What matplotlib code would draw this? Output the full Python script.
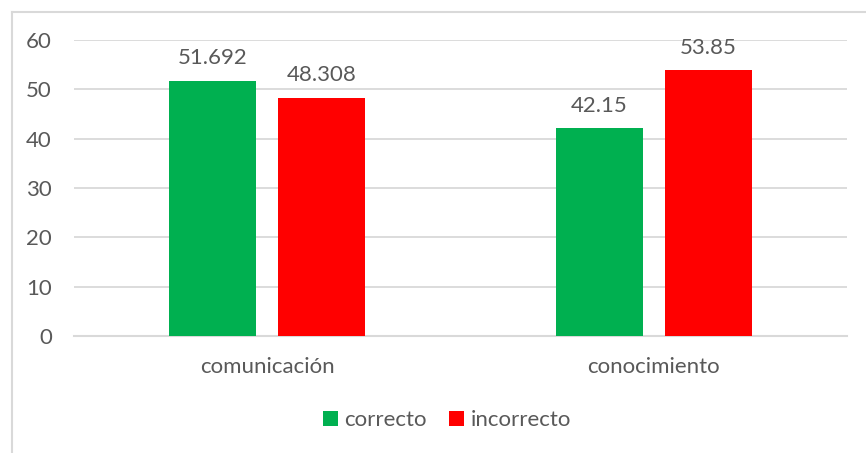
import numpy as np
import matplotlib
matplotlib.use("Agg")
import matplotlib.pyplot as plt
from matplotlib.lines import Line2D

categories = ["comunicación", "conocimiento"]
series_names = ["correcto", "incorrecto"]
correcto = [51.692, 42.15]
incorrecto = [48.308, 53.85]
labels_correcto = ["51.692", "42.15"]
labels_incorrecto = ["48.308", "53.85"]
yticks = [0, 10, 20, 30, 40, 50, 60]

plt.rcParams["font.family"] = ["Lato", "DejaVu Sans"]
TXT = "#595959"
GRID = "#d9d9d9"

W, H = 866, 453
fig = plt.figure(figsize=(W / 100, H / 100), dpi=100)
ax = fig.add_axes([74 / W, 1 - 336 / H, (847 - 74) / W, (336 - 40) / H])

x = np.arange(len(categories))
bw = 0.225
gap = 0.057
off = (bw + gap) / 2
b1 = ax.bar(x - off, correcto, bw, color="#00b050", label=series_names[0], zorder=3)
b2 = ax.bar(x + off, incorrecto, bw, color="#ff0000", label=series_names[1], zorder=3)

for bars, labs in [(b1, labels_correcto), (b2, labels_incorrecto)]:
    for r, t in zip(bars, labs):
        ax.annotate(t, (r.get_x() + r.get_width() / 2, r.get_height()),
                    xytext=(0, 9), textcoords="offset points",
                    ha="center", va="bottom", fontsize=16, color=TXT)

ax.set_xlim(-0.5, 1.5)
ax.set_ylim(0, 60)
ax.set_yticks(yticks)
ax.set_xticks(x)
ax.set_xticklabels(categories)
ax.tick_params(axis="both", length=0, labelsize=16, colors=TXT)
ax.tick_params(axis="x", pad=15)
ax.tick_params(axis="y", pad=16)
ax.grid(axis="y", color=GRID, lw=1.3, zorder=0)
for s in ["top", "right", "left"]:
    ax.spines[s].set_visible(False)
ax.spines["bottom"].set_color(GRID)
ax.spines["bottom"].set_linewidth(1.5)

fig.legend(handles=[b1, b2], loc="center", bbox_to_anchor=(447 / W, 1 - 420 / H),
           ncol=2, frameon=False, fontsize=16, labelcolor=TXT,
           handlelength=0.65, handleheight=0.65, handletextpad=0.3, columnspacing=1.0)

# chart area border (left and top edges visible)
fig.add_artist(Line2D([11.5 / W, 11.5 / W], [0, 1 - 12 / H], transform=fig.transFigure, color=GRID, lw=1.5))
fig.add_artist(Line2D([11.5 / W, 1], [1 - 12 / H, 1 - 12 / H], transform=fig.transFigure, color=GRID, lw=1.5))

fig.savefig("out.png", dpi=100)
